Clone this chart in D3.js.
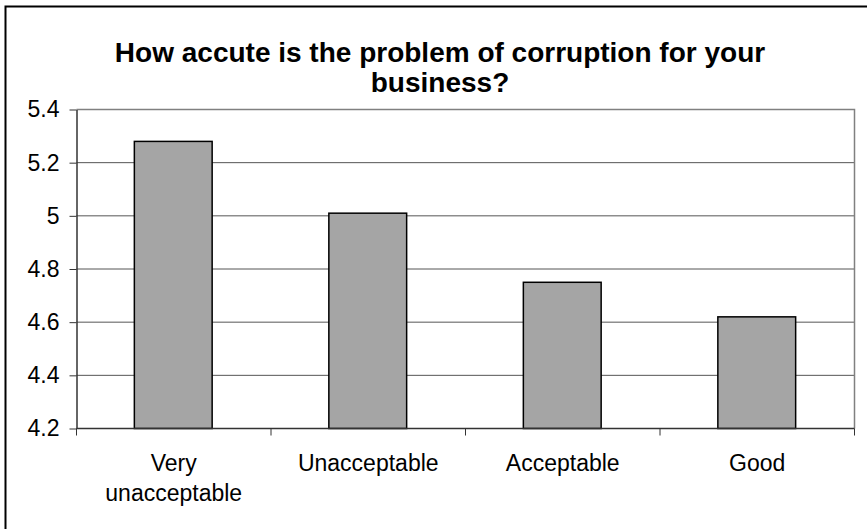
<!DOCTYPE html>
<html>
<head>
<meta charset="utf-8">
<script src="https://cdn.jsdelivr.net/npm/d3@7/dist/d3.min.js"></script>
<style>
  html, body { margin: 0; padding: 0; background: #fff; }
  svg { display: block; font-family: "Liberation Sans", Arial, sans-serif; }
</style>
</head>
<body>
<svg id="chart" width="867" height="529"></svg>
<script>
// Survey answers and mean scores
const categories = [["Very", "unacceptable"], ["Unacceptable"], ["Acceptable"], ["Good"]];
const values = [5.28, 5.01, 4.75, 4.62];
const yTicks = [4.2, 4.4, 4.6, 4.8, 5, 5.2, 5.4];
const titleLines = ["How accute is the problem of corruption for your", "business?"];

const svg = d3.select("#chart");
const W = 867, H = 529;
const plot = { left: 76.5, right: 854.5, top: 109.5, bottom: 428.5 };

svg.append("rect").attr("width", W).attr("height", H).attr("fill", "#fff");

// outer chart frame
svg.append("rect")
  .attr("x", 5.5).attr("y", 6.5)
  .attr("width", W + 10).attr("height", H + 10)
  .attr("fill", "none").attr("stroke", "#000").attr("stroke-width", 2);

const keys = categories.map((c, i) => i);
const x = d3.scaleBand().domain(keys).range([plot.left, plot.right]).padding(0);
const y = d3.scaleLinear().domain([4.2, 5.4]).range([plot.bottom, plot.top]);

// horizontal gridlines
svg.append("g")
  .selectAll("line")
  .data(yTicks.filter(t => t > 4.2 && t < 5.4))
  .join("line")
  .attr("x1", plot.left).attr("x2", plot.right)
  .attr("y1", d => y(d)).attr("y2", d => y(d))
  .attr("stroke", "#555").attr("stroke-width", 1);

// plot area border (top and right)
svg.append("path")
  .attr("d", `M${plot.left},${plot.top}H${plot.right}V${plot.bottom}`)
  .attr("fill", "none").attr("stroke", "#808080").attr("stroke-width", 1.5);

// bars
const barW = x.bandwidth() * 0.4;
svg.append("g")
  .selectAll("rect")
  .data(values)
  .join("rect")
  .attr("x", (d, i) => x(i) + x.bandwidth() / 2 - barW / 2 - 0.5)
  .attr("y", d => y(d))
  .attr("width", barW)
  .attr("height", d => y(4.2) - y(d))
  .attr("fill", "#a5a5a5")
  .attr("stroke", "#000").attr("stroke-width", 1.5);

// y axis
const yAxis = d3.axisLeft(y)
  .tickValues(yTicks)
  .tickFormat(d => d3.format("")(+d.toFixed(1)))
  .tickSizeInner(7).tickSizeOuter(0).tickPadding(10);
const gy = svg.append("g").attr("transform", `translate(${plot.left},0)`).call(yAxis);
gy.select(".domain").attr("stroke", "#333").attr("stroke-width", 1.5);
gy.selectAll(".tick line").attr("stroke", "#333").attr("stroke-width", 1);
gy.selectAll(".tick text")
  .attr("font-size", 23).attr("fill", "#000")
  .attr("font-family", "Liberation Sans, Arial, sans-serif");

// x axis with ticks at category boundaries
const xAxisLine = svg.append("g");
xAxisLine.append("line")
  .attr("x1", plot.left).attr("x2", plot.right)
  .attr("y1", plot.bottom).attr("y2", plot.bottom)
  .attr("stroke", "#333").attr("stroke-width", 1.5);
const boundaries = keys.map(k => x(k)).concat([x(keys[keys.length - 1]) + x.step()]);
xAxisLine.selectAll("line.tk")
  .data(boundaries)
  .join("line").attr("class", "tk")
  .attr("x1", d => d).attr("x2", d => d)
  .attr("y1", plot.bottom).attr("y2", plot.bottom + 7)
  .attr("stroke", "#333").attr("stroke-width", 1);

// category labels
const labels = svg.append("g")
  .attr("font-size", 23).attr("text-anchor", "middle").attr("fill", "#000");
labels.selectAll("text")
  .data(categories)
  .join("text")
  .attr("x", (d, i) => x(i) + x.bandwidth() / 2)
  .attr("y", 471)
  .each(function(d) {
    d3.select(this).selectAll("tspan")
      .data(d)
      .join("tspan")
      .attr("x", d3.select(this).attr("x"))
      .attr("dy", (t, j) => j === 0 ? 0 : 29.5)
      .text(t => t);
  });

// title
svg.append("g")
  .attr("font-size", 28).attr("font-weight", "bold").attr("text-anchor", "middle")
  .selectAll("text")
  .data(titleLines)
  .join("text")
  .attr("x", 440)
  .attr("y", (d, i) => 62 + i * 29.5)
  .text(d => d);
</script>
</body>
</html>
